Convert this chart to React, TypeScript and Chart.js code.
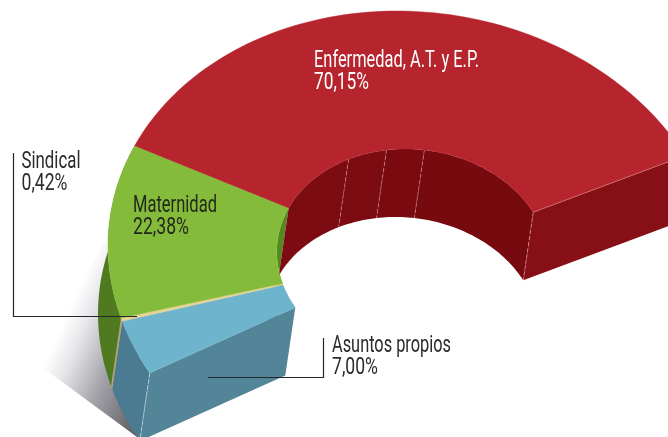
import React, { useEffect, useRef } from "react";
import { Chart, registerables } from "chart.js";

Chart.register(...registerables);

const categories = ["Asuntos propios", "Sindical", "Maternidad", "Enfermedad, A.T. y E.P."];
const shares = [7.0, 0.42, 22.38, 70.15];

// styling, by category
const topColors = ["#6fb4cd", "#e5d493", "#85bb3b", "#b6242d"];
const outerWallColors = ["#4a7b90", "#b3a470", "#4f7a1f", "#861016"];
const innerWallColors = ["#4a7b90", "#b3a470", "#55881f", "#7a0b10"];

const OUTER = { cx: 414.5, cy: 260, a: 306, b: 249, s: 0.07 };
const INNER = { cx: 413, cy: 258, a: 136, b: 109, s: 0.07 };
const DEPTH = { x: -10, y: 68 };
const seamDegrees = [278, 262, 245];
const panelShades = ["#760a0e", "#7a0a10", "#7c0c11", "#7d0c12"];

const labelLayout = [
  { x: 332, y: 352, w: 119, pw: 46, color: "#2b2b2b" },
  { x: 21.5, y: 168, w: 59, pw: 46, color: "#2b2b2b" },
  { x: 133, y: 212, w: 84, pw: 56, color: "#23291a" },
  { x: 314, y: 67, w: 165, pw: 55, color: "#ffffff" },
];
const LINE_HEIGHT = 21.5;

type P = { x: number; y: number };
type E = typeof OUTER;

const pt = (e: E, ang: number, shift = false): P => {
  const y = e.cy + e.b * Math.sin(ang);
  const x = e.cx + e.a * Math.cos(ang) + e.s * (y - e.cy);
  return shift ? { x: x + DEPTH.x, y: y + DEPTH.y } : { x, y };
};

const curve = (e: E, a0: number, a1: number, shift = false): P[] => {
  const n = Math.max(2, Math.ceil(Math.abs(a1 - a0) * 40));
  const out: P[] = [];
  for (let i = 0; i <= n; i++) out.push(pt(e, a0 + ((a1 - a0) * i) / n, shift));
  return out;
};

const poly = (ctx: CanvasRenderingContext2D, pts: P[], fill: string | CanvasGradient) => {
  ctx.beginPath();
  pts.forEach((p, i) => (i ? ctx.lineTo(p.x, p.y) : ctx.moveTo(p.x, p.y)));
  ctx.closePath();
  ctx.fillStyle = fill;
  ctx.fill();
};

const seam = (ctx: CanvasRenderingContext2D, a: P, b: P, color: string, dash: number[] = []) => {
  ctx.save();
  ctx.strokeStyle = color;
  ctx.lineWidth = 0.8;
  ctx.setLineDash(dash);
  ctx.beginPath();
  ctx.moveTo(a.x, a.y);
  ctx.lineTo(b.x, b.y);
  ctx.stroke();
  ctx.restore();
};

const ring3d = {
  id: "ring3d",
  beforeDatasetsDraw(chart: any) {
    const ctx: CanvasRenderingContext2D = chart.ctx;
    const arcs = chart.getDatasetMeta(0).data;
    ctx.save();

    // cast shadow
    const g = ctx.createLinearGradient(135, 430, 35, 385);
    g.addColorStop(0, "#5f5f64");
    g.addColorStop(0.45, "#a2a2a8");
    g.addColorStop(0.8, "#e6e6ea");
    g.addColorStop(1, "#ffffff");
    poly(ctx, [{ x: 110, y: 232 }, { x: 35, y: 362 }, { x: 137, y: 437 }, { x: 140, y: 300 }], g);

    // outer walls
    arcs.forEach((arc: any, i: number) => {
      if (i === 3) return;
      poly(
        ctx,
        [...curve(OUTER, arc.startAngle, arc.endAngle), ...curve(OUTER, arc.endAngle, arc.startAngle, true)],
        outerWallColors[i],
      );
    });

    // inner walls: green, then red panels
    const green = arcs[2];
    poly(
      ctx,
      [...curve(INNER, green.startAngle, green.endAngle), ...curve(INNER, green.endAngle, green.startAngle, true)],
      innerWallColors[2],
    );
    const red = arcs[3];
    const seams = seamDegrees.map((d) => (d * Math.PI) / 180);
    const edges = [red.endAngle, ...seams, red.startAngle];
    edges.slice(0, -1).forEach((a0: number, i: number) => {
      const a1 = edges[i + 1];
      poly(ctx, [...curve(INNER, a0, a1), ...curve(INNER, a1, a0, true)], panelShades[i]);
    });
    seams.forEach((a) => seam(ctx, pt(INNER, a), pt(INNER, a, true), "rgba(235,170,170,0.6)", [4, 2]));

    // end walls
    const blue = arcs[0];
    poly(
      ctx,
      [pt(INNER, blue.startAngle), pt(OUTER, blue.startAngle), pt(OUTER, blue.startAngle, true), pt(INNER, blue.startAngle, true)],
      "#538599",
    );
    poly(
      ctx,
      [pt(INNER, red.endAngle), pt(OUTER, red.endAngle), pt(OUTER, red.endAngle, true), pt(INNER, red.endAngle, true)],
      outerWallColors[3],
    );
    seam(ctx, pt(INNER, red.endAngle), pt(INNER, red.endAngle, true), "rgba(240,180,180,0.7)", [4, 2]);
    seam(ctx, pt(OUTER, blue.startAngle), pt(OUTER, blue.startAngle, true), "rgba(215,235,240,0.7)", [5, 1]);

    // top faces
    arcs.forEach((arc: any, i: number) => {
      const pts = [...curve(OUTER, arc.startAngle, arc.endAngle), ...curve(INNER, arc.endAngle, arc.startAngle)];
      ctx.strokeStyle = topColors[i];
      ctx.lineWidth = 0.4;
      poly(ctx, pts, topColors[i]);
      ctx.stroke();
    });

    // rim highlight
    seam(ctx, pt(INNER, red.endAngle), pt(OUTER, red.endAngle), "rgba(240,170,170,0.55)");
    ctx.restore();

    // leader lines
    ctx.save();
    ctx.strokeStyle = "#26262a";
    ctx.lineWidth = 1.2;
    ctx.beginPath();
    ctx.moveTo(13.5, 153);
    ctx.lineTo(13.5, 316.5);
    ctx.lineTo(137, 316.5);
    ctx.moveTo(208, 377.5);
    ctx.lineTo(323.5, 377.5);
    ctx.lineTo(323.5, 338);
    ctx.stroke();

    // labels
    ctx.textBaseline = "alphabetic";
    ctx.textAlign = "left";
    ctx.font = "400 23px Roboto";
    categories.forEach((name, i) => {
      const l = labelLayout[i];
      const pct = shares[i].toFixed(2).replace(".", ",") + "%";
      ctx.fillStyle = l.color;
      ctx.fillText(name, l.x, l.y, l.w);
      ctx.fillText(pct, l.x, l.y + LINE_HEIGHT, l.pw);
    });
    ctx.restore();
    return false;
  },
};

export default function App() {
  const ref = useRef<HTMLCanvasElement>(null);
  useEffect(() => {
    const chart = new Chart(ref.current as HTMLCanvasElement, {
      type: "doughnut",
      data: {
        labels: categories,
        datasets: [{ data: shares, backgroundColor: topColors, borderWidth: 0 }],
      },
      options: {
        responsive: false,
        animation: false,
        devicePixelRatio: 1,
        rotation: 243,
        circumference: 182.2,
        cutout: "45%",
        plugins: { legend: { display: false }, tooltip: { enabled: false } },
      },
      plugins: [ring3d],
    } as any);
    return () => chart.destroy();
  }, []);
  return (
    <div style={{ position: "absolute", left: 0, top: 0, width: 668, height: 437, overflow: "hidden", background: "#fff" }}>
      <canvas ref={ref} width={668} height={437} style={{ display: "block" }} />
    </div>
  );
}
